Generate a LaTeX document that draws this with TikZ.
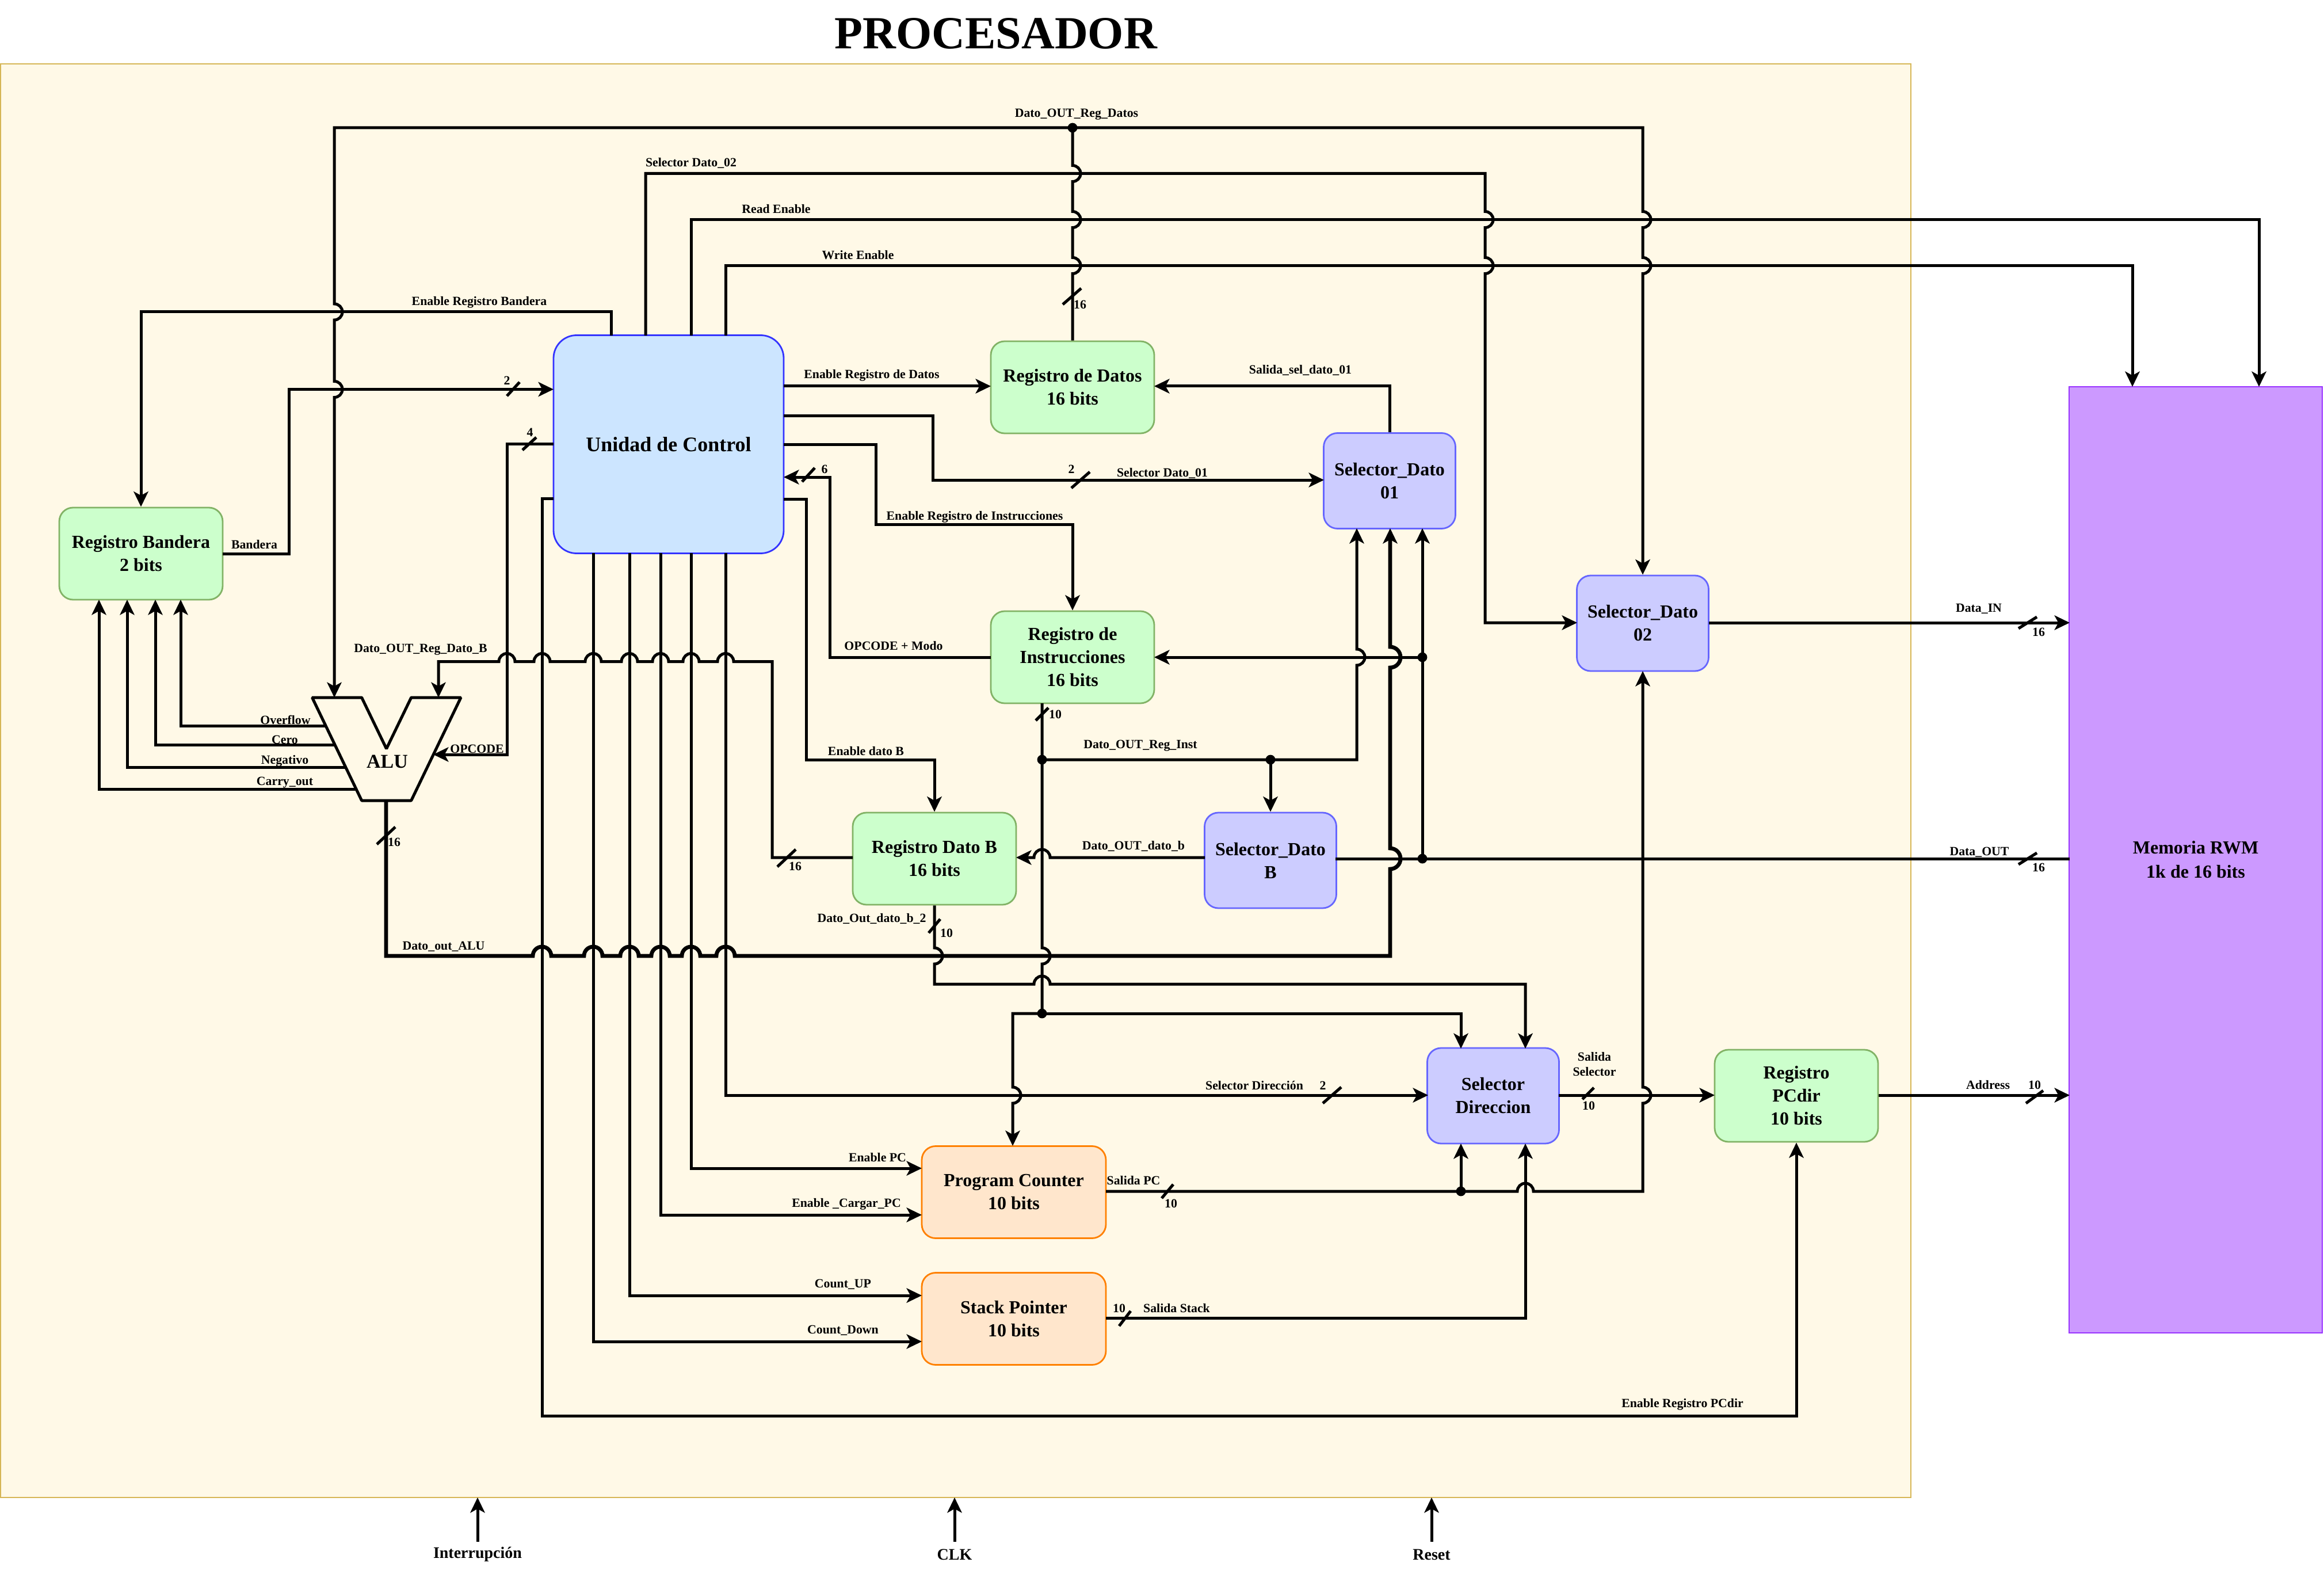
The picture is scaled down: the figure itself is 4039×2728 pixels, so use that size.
\documentclass[tikz,border=0pt]{standalone}
\usepackage{fontspec}
\setmainfont{Liberation Serif}
\usetikzlibrary{arrows.meta}
\definecolor{framefill}{HTML}{FFF9E7}
\definecolor{frameline}{HTML}{D6B656}
\definecolor{greenfill}{HTML}{CCFFCC}
\definecolor{greenline}{HTML}{82B366}
\definecolor{bluefill}{HTML}{CCE5FF}
\definecolor{blueline}{HTML}{3333FF}
\definecolor{purplefill}{HTML}{CCCCFF}
\definecolor{purpleline}{HTML}{6666FF}
\definecolor{orangefill}{HTML}{FFE6CC}
\definecolor{orangeline}{HTML}{FF8000}
\definecolor{memfill}{HTML}{CC99FF}
\definecolor{memline}{HTML}{9933FF}
\tikzset{
  x=0.25pt, y=-0.25pt,
  blk/.style={rounded corners=6pt, line width=0.7pt, align=center, font=\fontsize{8}{10}\selectfont\bfseries, inner sep=0pt, anchor=center},
  greenblk/.style={blk, draw=greenline, fill=greenfill},
  purpleblk/.style={blk, draw=purpleline, fill=purplefill},
  orangeblk/.style={blk, draw=orangeline, fill=orangefill},
  wire/.style={line width=1.25pt, line join=miter},
  wirethick/.style={line width=1.7pt, line join=miter},
  arr/.style={-{Stealth[length=6.6pt,width=6.3pt,inset=1.7pt]}},
  lbl/.style={font=\fontsize{5.45}{6.5}\selectfont\bfseries, inner sep=0pt, align=center},
  dotj/.style={circle, fill=black, inner sep=0pt, minimum size=4.2pt},
}
\begin{document}
\begin{tikzpicture}
\useasboundingbox (0,0) rectangle (4039,2728);
\fill[white] (0,0) rectangle (4039,2728);
\node[font=\fontsize{20}{24}\selectfont\bfseries, inner sep=0pt] (title) at (1731,58) {PROCESADOR};
\draw[frameline, fill=framefill, line width=0.6pt] (1,111) rectangle (3321,2602);

% blocks
\node[blk, draw=blueline, fill=bluefill, minimum width=100pt, minimum height=94.75pt, rounded corners=10pt, font=\fontsize{9}{12}\selectfont\bfseries] (uc) at (1162,772) {Unidad de Control};
\node[greenblk, minimum width=71pt, minimum height=40pt] (band) at (245,962) {Registro Bandera\\2 bits};
\node[greenblk, minimum width=71pt, minimum height=40pt] (datos) at (1864,673) {Registro de Datos\\16 bits};
\node[greenblk, minimum width=71pt, minimum height=40pt] (instr) at (1864,1142) {Registro de\\Instrucciones\\16 bits};
\node[greenblk, minimum width=71pt, minimum height=40pt] (datob) at (1624,1492) {Registro Dato B\\16 bits};
\node[greenblk, minimum width=71pt, minimum height=40pt] (pcdir) at (3122,1904) {Registro\\PCdir\\10 bits};
\node[purpleblk, minimum width=57.25pt, minimum height=41.5pt] (sel1) at (2415,835.5) {Selector\_Dato\\01};
\node[purpleblk, minimum width=57.25pt, minimum height=41.5pt] (sel2) at (2855,1083) {Selector\_Dato\\02};
\node[purpleblk, minimum width=57.25pt, minimum height=41.5pt] (selb) at (2208,1495) {Selector\_Dato\\B};
\node[purpleblk, minimum width=57.25pt, minimum height=41.5pt] (seld) at (2595,1904) {Selector\\Direccion};
\node[orangeblk, minimum width=80pt, minimum height=40pt] (pc) at (1762,2071.5) {Program Counter\\10 bits};
\node[orangeblk, minimum width=80pt, minimum height=40pt] (sp) at (1762,2291.5) {Stack Pointer\\10 bits};
\node[draw=memline, fill=memfill, line width=0.7pt, minimum width=110pt, minimum height=411pt, inner sep=0pt, align=center, font=\fontsize{8}{10.5}\selectfont\bfseries] (mem) at (3816,1494) {Memoria RWM\\1k de 16 bits};

% ALU
\draw[line width=1.25pt, line join=bevel, fill=framefill] (542.5,1212) -- (628.6,1212) -- (671.6,1301) -- (714.7,1212) -- (801,1212) -- (714.7,1391) -- (628.6,1391) -- cycle;
\node[font=\fontsize{8.5}{10}\selectfont\bfseries, inner sep=0pt] (alu) at (673,1323) {ALU};

% named points
\coordinate (bandout) at (387,962);
\coordinate (ucl1) at (962,676.5);
\coordinate (ucl2) at (962,771);
\coordinate (ucl3) at (962,866);
\coordinate (ucr1) at (1362,671);
\coordinate (ucr2) at (1362,723);
\coordinate (ucr3) at (1362,772);
\coordinate (ucr4) at (1362,829);
\coordinate (ucr5) at (1362,867);
\coordinate (uct0) at (1062,583);
\coordinate (uct1) at (1122,583);
\coordinate (uct2) at (1201,583);
\coordinate (uct3) at (1261,583);
\coordinate (ucb1) at (1031,961);
\coordinate (ucb2) at (1094,961);
\coordinate (ucb3) at (1148,961);
\coordinate (ucb4) at (1201,961);
\coordinate (ucb5) at (1261,961);
\coordinate (aluin1) at (581,1212);
\coordinate (aluin2) at (762,1212);
\coordinate (aluop) at (753,1311);
\coordinate (alubot) at (671,1391);
\coordinate (aluo1) at (566,1261);
\coordinate (aluo2) at (582,1294.5);
\coordinate (aluo3) at (601,1333);
\coordinate (aluo4) at (619,1371);
\coordinate (datobw) at (1482,1490);
\coordinate (sel2w) at (2741,1082);

% top bus
\draw[wire, arr] (1864,222) -- (581,222) -- (581,528) arc[start angle=-90,end angle=90,radius=14] -- (581,662.5) arc[start angle=-90,end angle=90,radius=14] -- (aluin1);
\draw[wire, arr] (1864,222) -- (2855,222) -- (2855,367.5) arc[start angle=-90,end angle=90,radius=14] -- (2855,447.5) arc[start angle=-90,end angle=90,radius=14] -- (sel2.north);
\draw[wire] (datos.north) -- (1864,475.5) arc[start angle=90,end angle=-90,radius=14] -- (1864,395.5) arc[start angle=90,end angle=-90,radius=14] -- (1864,315.5) arc[start angle=90,end angle=-90,radius=14] -- (1864,222);
\node[dotj] (j1) at (1864,222) {};

% control outputs on top
\draw[wire, arr] (uct0) -- (1062,542) -- (245,542) -- (band.north);
\draw[wire, arr] (uct1) -- (1122,301.5) -- (2581,301.5) -- (2581,367.5) arc[start angle=-90,end angle=90,radius=14] -- (2581,447.5) arc[start angle=-90,end angle=90,radius=14] -- (2581,1082) -- (sel2w);
\draw[wire, arr] (uct2) -- (1201,381.5) -- (3926,381.5) -- (3926,672);
\draw[wire, arr] (uct3) -- (1261,461.5) -- (3706,461.5) -- (3706,672);

% bandera -> uc
\draw[wire, arr] (bandout) -- (502,962) -- (502,676.5) -- (ucl1);

% ALU flags
\draw[wire, arr] (aluo1) -- (314,1261) -- (314,1042);
\draw[wire, arr] (aluo2) -- (270,1294.5) -- (270,1042);
\draw[wire, arr] (aluo3) -- (221,1333) -- (221,1042);
\draw[wire, arr] (aluo4) -- (172,1371) -- (172,1042);

% OPCODE
\draw[wire, arr] (ucl2) -- (881,771) -- (881,1311) -- (aluop);

% Dato_OUT_Reg_Dato_B
\draw[wire, arr] (datobw) -- (1342,1490) -- (1342,1149.5) -- (1275,1149.5)
 arc[start angle=0,end angle=-180,radius=14] -- (1215,1149.5)
 arc[start angle=0,end angle=-180,radius=14] -- (1162,1149.5)
 arc[start angle=0,end angle=-180,radius=14] -- (1108,1149.5)
 arc[start angle=0,end angle=-180,radius=14] -- (1045,1149.5)
 arc[start angle=0,end angle=-180,radius=14] -- (956,1149.5)
 arc[start angle=0,end angle=-180,radius=14] -- (895,1149.5)
 arc[start angle=0,end angle=-180,radius=14] -- (762,1149.5) -- (aluin2);

% UC bottom lines
\draw[wire, arr] (ucl3) -- (942,866) -- (942,2460) -- (3122,2460) -- (pcdir.south);
\draw[wire, arr] (ucb1) -- (1031,2331) -- (1602,2331);
\draw[wire, arr] (ucb2) -- (1094,2251) -- (1602,2251);
\draw[wire, arr] (ucb3) -- (1148,2111) -- (1602,2111);
\draw[wire, arr] (ucb4) -- (1201,2030) -- (1602,2030);
\draw[wire, arr] (ucb5) -- (1261,1903) -- (2482,1903);

% UC right lines
\draw[wire, arr] (ucr1) -- (1722,671);
\draw[wire, arr] (ucr2) -- (1621,723) -- (1621,834) -- (2301,834);
\draw[wire, arr] (ucr3) -- (1522,772) -- (1522,911) -- (1864,911) -- (instr.north);
\draw[wire, arr] (1722,1142) -- (1442,1142) -- (1442,829) -- (ucr4);
\draw[wire, arr] (ucr5) -- (1401,867) -- (1401,1320) -- (1624,1320) -- (datob.north);

% Selector 01 out
\draw[wire, arr] (sel1.north) -- (2415,671) -- (2006,671);

% instr bus
\draw[wire] (1811,1222) -- (1811,1647) arc[start angle=-90,end angle=90,radius=14] -- (1811,1761);
\draw[wire, arr] (1811,1320) -- (2358,1320) -- (2358,1156) arc[start angle=90,end angle=-90,radius=14] -- (2358,918);
\draw[wire, arr] (2208,1320) -- (selb.north);
\node[dotj] (j2) at (1811,1320) {};
\node[dotj] (j3) at (2208,1320) {};

% dato b -> selector
\draw[wire, arr] (2094,1490) -- (1825,1490) arc[start angle=0,end angle=-180,radius=14] -- (1766,1490);
% selector B out
\draw[wire] (2321,1492) -- (3597,1492);
% data out vertical
\draw[wire, arr] (2472,1492) -- (2472,918);
\node[dotj] (j4) at (2472,1492) {};
\draw[wire, arr] (2472,1142) -- (2006,1142);
\node[dotj] (j5) at (2472,1142) {};

% Dato_out_ALU
\draw[wirethick, arr] (alubot) -- (671,1661) -- (926,1661)
 arc[start angle=180,end angle=360,radius=16] -- (1015,1661)
 arc[start angle=180,end angle=360,radius=16] -- (1078,1661)
 arc[start angle=180,end angle=360,radius=16] -- (1132,1661)
 arc[start angle=180,end angle=360,radius=16] -- (1185,1661)
 arc[start angle=180,end angle=360,radius=16] -- (1245,1661)
 arc[start angle=180,end angle=360,radius=16] -- (2416,1661) -- (2416,1510) arc[start angle=90,end angle=-90,radius=18] -- (2416,1160) arc[start angle=90,end angle=-90,radius=18] -- (2416,918);

% Registro Dato B -> selector direccion
\draw[wire, arr] (datob.south) -- (1624,1647) arc[start angle=-90,end angle=90,radius=14] -- (1624,1710) -- (1797,1710) arc[start angle=180,end angle=360,radius=14] -- (2651,1710) -- (2651,1822);

% PC feed
\draw[wire, arr] (1811,1761) -- (2539,1761) -- (2539,1822);
\draw[wire, arr] (1811,1761) -- (1760,1761) -- (1760,1889) arc[start angle=-90,end angle=90,radius=14] -- (1760,1991);
\node[dotj] (j6) at (1811,1761) {};

% PC out
\draw[wire, arr] (1922,2070) -- (2637,2070) arc[start angle=180,end angle=360,radius=14] -- (2855,2070) -- (2855,1917) arc[start angle=90,end angle=-90,radius=14] -- (2855,1166);
\draw[wire, arr] (2539,2070) -- (2539,1987);
\node[dotj] (j7) at (2539,2070) {};

% SP out
\draw[wire, arr] (1922,2290) -- (2651,2290) -- (2651,1987);

% Selector dir out
\draw[wire, arr] (2709,1903) -- (2980,1903);
% PCdir out
\draw[wire, arr] (3265,1903) -- (3597,1903);
% sel2 out
\draw[wire, arr] (2970,1082) -- (3597,1082);

% bottom inputs
\coordinate (ia) at (830,2679); \coordinate (ib) at (1659,2679); \coordinate (ic) at (2488,2679);
\draw[wire, arr] (ia) -- (830,2602);
\draw[wire, arr] (ib) -- (1659,2602);
\draw[wire, arr] (ic) -- (2488,2602);
\node[font=\fontsize{7}{8}\selectfont\bfseries, inner sep=0pt] (ila) at (830,2701) {Interrupción};
\node[font=\fontsize{7}{8}\selectfont\bfseries, inner sep=0pt] (ilb) at (1659,2701) {CLK};
\node[font=\fontsize{7}{8}\selectfont\bfseries, inner sep=0pt] (ilc) at (2488,2701) {Reset};

% slashes
\foreach \sx/\sy/\hx/\hy in {892/676/11/12, 920/771/12/11, 671/1452/16/15, 1367/1491/16/15, 1863/515/16/14, 1405/825/11/12, 1878/834/16/14, 1811/1241/11/11, 1624/1609/10/12, 2315/1903/16/14, 2029/2070/10/12, 2760/1900/10/10, 3524/1082/16/10, 3524/1492/16/10, 3536/1906/15/11, 1955/2291/10/13}
  \draw[wire] (\sx-\hx,\sy+\hy) -- (\sx+\hx,\sy-\hy);

% labels
\node[lbl] (l01) at (1871,199) {Dato\_OUT\_Reg\_Datos};
\node[lbl] (l02) at (1201,283) {Selector Dato\_02};
\node[lbl] (l03) at (1349,363) {Read Enable};
\node[lbl] (l04) at (1491,443) {Write Enable};
\node[lbl] (l05) at (833,525) {Enable Registro Bandera};
\node[lbl] (l06) at (1515,652) {Enable Registro de Datos};
\node[lbl] (l07) at (2260,643) {Salida\_sel\_dato\_01};
\node[lbl] (l08) at (881,661) {2};
\node[lbl] (l09) at (921,751) {4};
\node[lbl] (l10) at (1433,815) {6};
\node[lbl] (l11) at (1862,815) {2};
\node[lbl] (l12) at (2020,822) {Selector Dato\_01};
\node[lbl] (l13) at (1694,898) {Enable Registro de Instrucciones};
\node[lbl] (l14) at (442,946) {Bandera};
\node[lbl] (l15) at (1553,1122) {OPCODE + Modo};
\node[lbl] (l16) at (731,1129) {Dato\_OUT\_Reg\_Dato\_B};
\node[lbl] (l17) at (1877,529) {16};
\node[lbl] (l18) at (1834,1241) {10};
\node[lbl] (l19) at (496,1251) {Overflow};
\node[lbl] (l20) at (495,1285) {Cero};
\node[lbl] (l21) at (495,1322) {Negativo};
\node[lbl] (l22) at (495,1360) {Carry\_out};
\node[lbl] (l23) at (829,1301) {OPCODE};
\node[lbl] (l24) at (685,1463) {16};
\node[lbl] (l25) at (771,1645) {Dato\_out\_ALU};
\node[lbl] (l26) at (1382,1505) {16};
\node[lbl] (l27) at (1505,1305) {Enable dato B};
\node[lbl] (l28) at (1982,1296) {Dato\_OUT\_Reg\_Inst};
\node[lbl] (l29) at (1970,1470) {Dato\_OUT\_dato\_b};
\node[lbl] (l30) at (1515,1596) {Dato\_Out\_dato\_b\_2};
\node[lbl] (l31) at (1645,1621) {10};
\node[lbl] (l32) at (2180,1886) {Selector Dirección};
\node[lbl] (l33) at (2299,1886) {2};
\node[lbl] (l34) at (2771,1849) {Salida\\Selector};
\node[lbl] (l35) at (2761,1921) {10};
\node[lbl] (l36) at (3455,1885) {Address};
\node[lbl] (l37) at (3536,1885) {10};
\node[lbl] (l38) at (3439,1058) {Data\_IN};
\node[lbl] (l39) at (3543,1098) {16};
\node[lbl] (l40) at (3440,1481) {Data\_OUT};
\node[lbl] (l41) at (3543,1507) {16};
\node[lbl] (l42) at (1525,2011) {Enable PC};
\node[lbl] (l43) at (1471,2092) {Enable \_Cargar\_PC};
\node[lbl] (l44) at (1970,2051) {Salida PC};
\node[lbl] (l45) at (2035,2091) {10};
\node[lbl] (l46) at (1465,2232) {Count\_UP};
\node[lbl] (l47) at (1465,2312) {Count\_Down};
\node[lbl] (l48) at (1945,2273) {10};
\node[lbl] (l49) at (2045,2273) {Salida Stack};
\node[lbl] (l50) at (2924,2440) {Enable Registro PCdir};
\end{tikzpicture}
\end{document}
